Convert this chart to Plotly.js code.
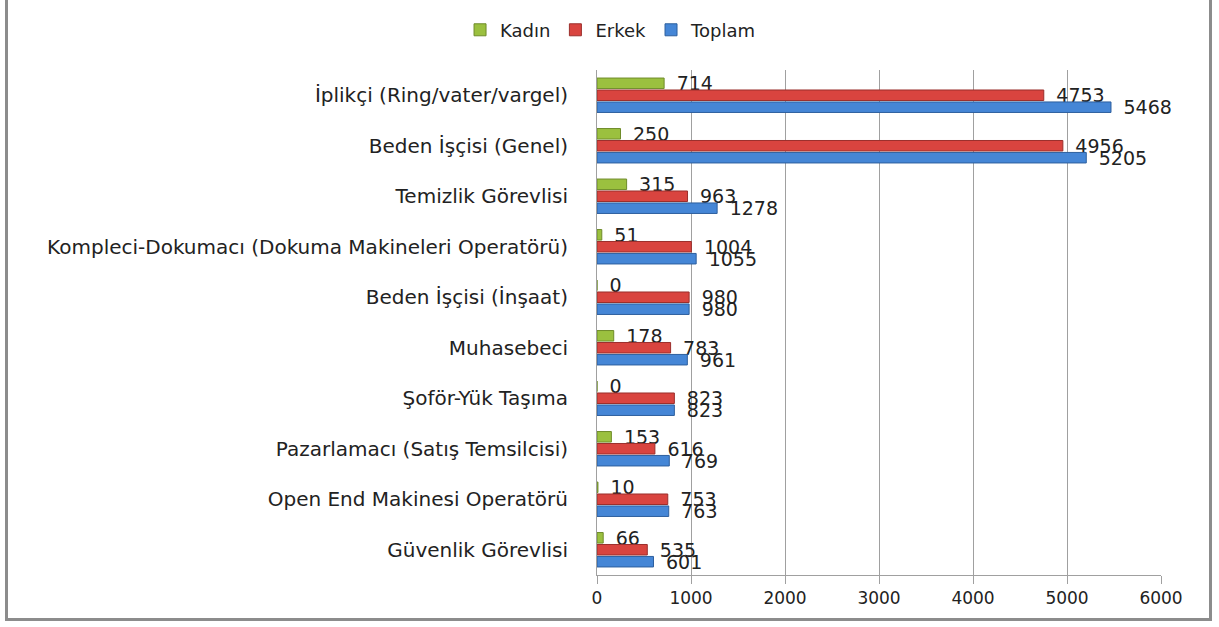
<!DOCTYPE html>
<html><head><meta charset="utf-8">
<script src="https://cdn.plot.ly/plotly-3.0.1.min.js"></script>
<style>
html,body{margin:0;padding:0;background:#fff;}
#wrap{position:relative;width:1219px;height:627px;}
#chart{position:absolute;left:0;top:0;width:1219px;height:627px;}
#frame{position:absolute;left:5px;top:-4px;width:1207px;height:625px;border:3px solid #8c8c8c;box-sizing:border-box;pointer-events:none;}
</style></head>
<body><div id="wrap"><div id="chart"></div><div id="frame"></div></div>
<script>
const categories = [
  "İplikçi (Ring/vater/vargel)",
  "Beden İşçisi (Genel)",
  "Temizlik Görevlisi",
  "Kompleci-Dokumacı (Dokuma Makineleri Operatörü)",
  "Beden İşçisi (İnşaat)",
  "Muhasebeci",
  "Şoför-Yük Taşıma",
  "Pazarlamacı (Satış Temsilcisi)",
  "Open End Makinesi Operatörü",
  "Güvenlik Görevlisi"
];
const kadin  = [714, 250, 315, 51, 0, 178, 0, 153, 10, 66];
const erkek  = [4753, 4956, 963, 1004, 980, 783, 823, 616, 753, 535];
const toplam = [5468, 5205, 1278, 1055, 980, 961, 823, 769, 763, 601];
const seriesNames = ["Kadın", "Erkek", "Toplam"];
const colors = ["#9bc03f", "#d9443f", "#4586d6"];
const lineColors = ["#6f8c2a", "#9b2f2c", "#2d5f9e"];
const xTicks = [0, 1000, 2000, 3000, 4000, 5000, 6000];

const font = "'DejaVu Sans', Verdana, sans-serif";
const traces = [kadin, erkek, toplam].map((vals, i) => ({
  type: 'bar', orientation: 'h', name: seriesNames[i],
  y: categories, x: vals,
  text: vals.map(v => '\u2002' + v), textposition: 'outside', cliponaxis: false,
  constraintext: 'none',
  textfont: {family: font, size: 19, color: '#222'},
  marker: {color: colors[i], line: {color: lineColors[i], width: 1}}
}));

const layout = {
  width: 1219, height: 627,
  margin: {l: 597, r: 58, t: 70, b: 52},
  barmode: 'group', bargap: 0.29, bargroupgap: 0.12,
  paper_bgcolor: '#fff', plot_bgcolor: '#fff',
  font: {family: font, size: 17, color: '#222'},
  showlegend: true,
  legend: {orientation: 'h', x: 0.024, xanchor: 'center', xref: 'paper', y: 0.952, yref: 'container', yanchor: 'middle',
           font: {family: font, size: 18, color: '#222'}, itemwidth: 30, traceorder: 'normal'},
  xaxis: {range: [0, 6000], tickvals: xTicks, ticktext: xTicks.map(String),
          showgrid: true, gridcolor: '#a0a0a0', gridwidth: 1,
          showline: true, linecolor: '#a0a0a0', ticks: 'outside', ticklen: 8, tickcolor: '#a0a0a0',
          zeroline: false, tickfont: {family: font, size: 17, color: '#222'}, fixedrange: true},
  yaxis: {autorange: 'reversed', type: 'category', showline: true, linecolor: '#a0a0a0',
          ticks: '', ticklen: 0, showgrid: false, tickfont: {family: font, size: 20, color: '#222'},
          ticklabelstandoff: 24, fixedrange: true}
};
Plotly.newPlot('chart', traces, layout, {displayModeBar: false, staticPlot: true});
</script></body></html>
